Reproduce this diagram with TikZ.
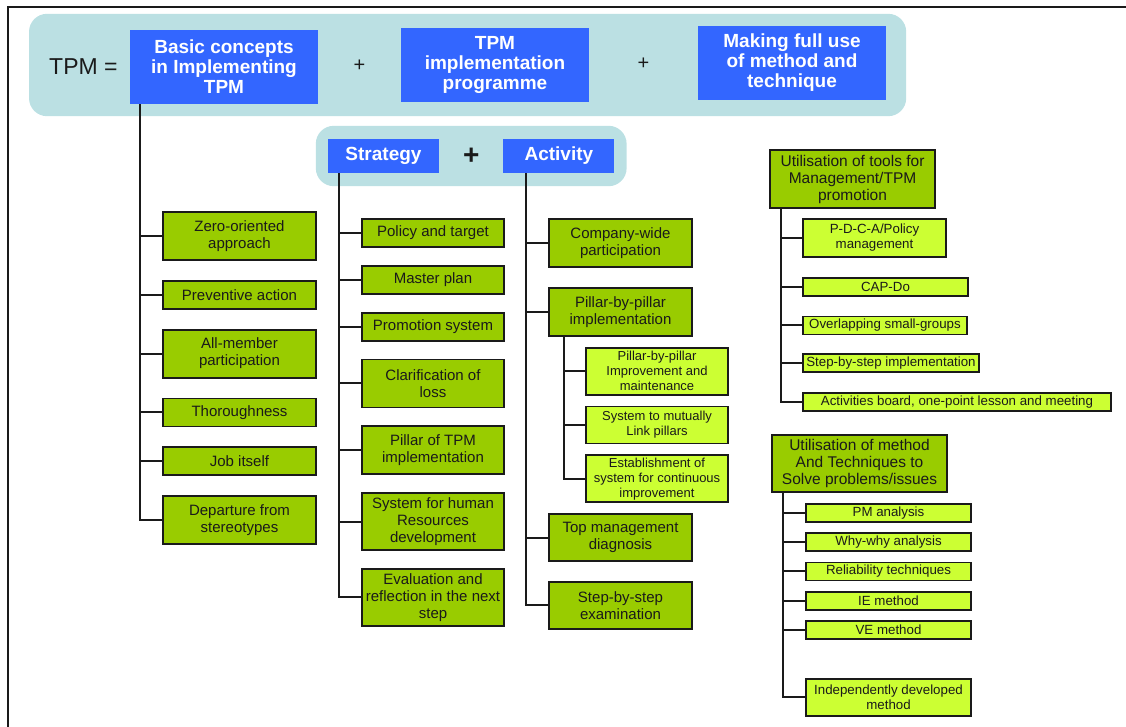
\documentclass[tikz,border=0pt]{standalone}
\usepackage{fontspec}
\setmainfont{Liberation Sans}
\usetikzlibrary{backgrounds,calc,fit,positioning}
\definecolor{ink}{HTML}{1A1A1A}
\definecolor{conceptBlue}{HTML}{3366FF}
\definecolor{bandTeal}{HTML}{BBE0E3}
\definecolor{ideaGreen}{HTML}{99CC00}
\definecolor{detailLime}{HTML}{CCFF33}
\tikzset{
  concept card/.style={
    fill=conceptBlue,
    text=white,
    font=\fontsize{19}{20}\selectfont\bfseries,
    align=center,
    inner sep=1pt,
    minimum width=188pt,
    minimum height=74pt
  },
  branch card/.style={
    concept card,
    minimum width=111pt,
    minimum height=34pt
  },
  band/.style={
    fill=bandTeal,
    rounded corners=18pt
  },
  idea card/.style={
    draw=ink,
    fill=ideaGreen,
    line width=1.8pt,
    font=\fontsize{15}{17}\selectfont,
    align=center,
    inner sep=1pt,
    minimum width=153pt,
    minimum height=28pt,
    text=ink
  },
  plan card/.style={
    idea card,
    minimum width=142pt
  },
  head card/.style={
    idea card,
    font=\fontsize{15.5}{17}\selectfont,
    minimum height=58pt
  },
  detail card/.style={
    idea card,
    fill=detailLime,
    font=\fontsize{13}{15}\selectfont,
    minimum width=142pt,
    minimum height=47pt
  },
  tool card/.style={
    detail card,
    font=\fontsize{13.3}{15}\selectfont,
    minimum width=165pt,
    minimum height=18pt
  },
  tree edge/.style={
    draw=ink,
    line width=2pt
  },
  frame line/.style={
    draw=ink,
    line width=2pt
  },
  plus sign/.style={
    font=\fontsize{20}{20}\selectfont,
    text=ink
  }
}

\begin{document}
\begin{tikzpicture}[x=1pt,y=-1pt]
  \useasboundingbox (0,0) rectangle (1126,727);
  \draw[frame line] (1140,7) -- (8,7) -- (8,740);

  % headline
  \node[concept card] (basic) at (224,67) {Basic concepts\\in Implementing\\TPM};
  \node[concept card] (programme) at (495,65) {TPM\\implementation\\programme};
  \node[concept card] (making) at (792,63) {Making full use\\of method and\\technique};
  \node[left=12pt of basic,inner sep=0pt,font=\fontsize{23}{23}\selectfont,text=ink] (tpm) {TPM =};
  \node[plus sign] (plus-a) at ($(basic.east)!0.5!(programme.west)$) {+};
  \node[plus sign] (plus-b) at ($(programme.east)!0.5!(making.west)$) {+};

  \node[branch card] (strategy) at (383.5,156) {Strategy};
  \node[branch card,right=64pt of strategy] (activity) {Activity};
  \node[plus sign,font=\fontsize{28}{28}\selectfont\bfseries] (plus-c) at ($(strategy.east)!0.5!(activity.west)$) {+};

  \begin{scope}[on background layer]
    \node[band,fit=(tpm)(basic)(programme)(making),inner xsep=20pt,inner ysep=12pt] (headline) {};
    \node[band,fit=(strategy)(activity),inner xsep=12pt,inner ysep=13pt] (pair) {};
  \end{scope}

  % basic concepts
  \node[idea card,minimum height=48pt] (zero) at (239.5,236) {Zero-oriented\\approach};
  \node[idea card,below=19pt of zero] (preventive) {Preventive action};
  \node[idea card,minimum height=48pt,below=19pt of preventive] (all-member) {All-member\\participation};
  \node[idea card,below=19pt of all-member] (thoroughness) {Thoroughness};
  \node[idea card,below=19pt of thoroughness] (job) {Job itself};
  \node[idea card,minimum height=48pt,below=19pt of job] (departure) {Departure from\\stereotypes};

  % strategy
  \node[plan card] (policy) at (433,233) {Policy and target};
  \node[plan card,below=17pt of policy] (master) {Master plan};
  \node[plan card,below=17pt of master] (promotion) {Promotion system};
  \node[plan card,minimum height=48pt,below=17pt of promotion] (loss) {Clarification of\\loss};
  \node[plan card,minimum height=48pt,below=17pt of loss] (pillar-tpm) {Pillar of TPM\\implementation};
  \node[plan card,minimum height=57pt,below=17pt of pillar-tpm] (human) {System for human\\Resources\\development};
  \node[plan card,minimum height=57pt,below=17pt of human] (evaluation) {Evaluation and\\reflection in the next\\step};

  % activity
  \node[plan card,minimum width=143pt,minimum height=48pt] (company) at (620.5,243) {Company-wide\\participation};
  \node[plan card,minimum width=143pt,minimum height=48pt,below=19pt of company] (pillar) {Pillar-by-pillar\\implementation};
  \node[detail card,anchor=north west] (pillar-improve) at ($(pillar.south west)+(37,10)$) {Pillar-by-pillar\\Improvement and\\maintenance};
  \node[detail card,minimum height=37pt,below=10pt of pillar-improve] (link) {System to mutually\\Link pillars};
  \node[detail card,below=10pt of link] (continuous) {Establishment of\\system for continuous\\improvement};
  \node[plan card,minimum width=143pt,minimum height=47pt,anchor=north] (top-diagnosis) at ($(continuous.south -| pillar.south)+(0,10)$) {Top management\\diagnosis};
  \node[plan card,minimum width=143pt,minimum height=47pt,below=19pt of top-diagnosis] (examination) {Step-by-step\\examination};

  % tools for management
  \node[head card,minimum width=165pt] (tools) at (852.5,179) {Utilisation of tools for\\Management/TPM\\promotion};
  \node[tool card,minimum width=143pt,minimum height=38pt,anchor=north west] (pdca) at ($(tools.south west)+(33,9)$) {P-D-C-A/Policy\\management};
  \node[tool card,below=19pt of pdca.south west,anchor=north west] (cap-do) {CAP-Do};
  \node[tool card,minimum width=164pt,below=19pt of cap-do.south west,anchor=north west] (overlapping) {Overlapping small-groups};
  \node[tool card,minimum width=176pt,below=18pt of overlapping.south west,anchor=north west] (step-impl) {Step-by-step implementation};
  \node[tool card,minimum width=308pt,below=19pt of step-impl.south west,anchor=north west] (board) {Activities board, one-point lesson and meeting};

  % method and techniques
  \node[head card,minimum width=175pt,minimum height=57pt] (method) at (859.5,463.5) {Utilisation of method\\And Techniques to\\Solve problems/issues};
  \node[tool card,anchor=north west] (pm) at ($(method.south west)+(34,10)$) {PM analysis};
  \node[tool card,below=9.5pt of pm] (why-why) {Why-why analysis};
  \node[tool card,below=9.5pt of why-why] (reliability) {Reliability techniques};
  \node[tool card,below=9.5pt of reliability] (ie) {IE method};
  \node[tool card,below=9.5pt of ie] (ve) {VE method};
  \node[tool card,minimum height=37pt,below=38pt of ve] (independent) {Independently developed\\method};

  \coordinate (basic-spine) at ($(basic.south west)+(10,0)$);
  \coordinate (strategy-spine) at ($(strategy.south west)+(11,0)$);
  \coordinate (activity-spine) at ($(activity.south west)+(23,0)$);
  \coordinate (pillar-spine) at ($(pillar.south west)+(16,0)$);
  \coordinate (tools-spine) at ($(tools.south west)+(12,0)$);
  \coordinate (method-spine) at ($(method.south west)+(12,0)$);

  \draw[tree edge] (basic-spine) |- (zero.west);
  \draw[tree edge] (basic-spine) |- (preventive.west);
  \draw[tree edge] (basic-spine) |- (all-member.west);
  \draw[tree edge] (basic-spine) |- (thoroughness.west);
  \draw[tree edge] (basic-spine) |- (job.west);
  \draw[tree edge] (basic-spine) |- (departure.west);

  \draw[tree edge] (strategy-spine) |- (policy.west);
  \draw[tree edge] (strategy-spine) |- (master.west);
  \draw[tree edge] (strategy-spine) |- (promotion.west);
  \draw[tree edge] (strategy-spine) |- (loss.west);
  \draw[tree edge] (strategy-spine) |- (pillar-tpm.west);
  \draw[tree edge] (strategy-spine) |- (human.west);
  \draw[tree edge] (strategy-spine) |- (evaluation.west);

  \draw[tree edge] (activity-spine) |- (company.west);
  \draw[tree edge] (activity-spine) |- (pillar.west);
  \draw[tree edge] (activity-spine) |- (top-diagnosis.west);
  \draw[tree edge] (activity-spine) |- (examination.west);
  \draw[tree edge] (pillar-spine) |- (pillar-improve.west);
  \draw[tree edge] (pillar-spine) |- (link.west);
  \draw[tree edge] (pillar-spine) |- (continuous.west);

  \draw[tree edge] (tools-spine) |- (pdca.west);
  \draw[tree edge] (tools-spine) |- (cap-do.west);
  \draw[tree edge] (tools-spine) |- (overlapping.west);
  \draw[tree edge] (tools-spine) |- (step-impl.west);
  \draw[tree edge] (tools-spine) |- (board.west);

  \draw[tree edge] (method-spine) |- (pm.west);
  \draw[tree edge] (method-spine) |- (why-why.west);
  \draw[tree edge] (method-spine) |- (reliability.west);
  \draw[tree edge] (method-spine) |- (ie.west);
  \draw[tree edge] (method-spine) |- (ve.west);
  \draw[tree edge] (method-spine) |- (independent.west);
\end{tikzpicture}
\end{document}
